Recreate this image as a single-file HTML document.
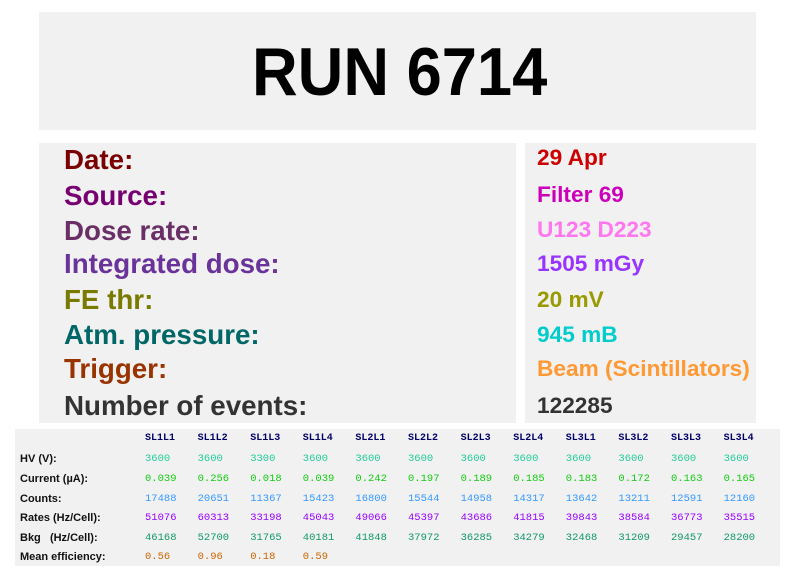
<!DOCTYPE html>
<html><head><meta charset="utf-8"><style>
body{margin:0;width:796px;height:572px;background:#fff;position:relative;overflow:hidden;font-family:"Liberation Sans",sans-serif}
.p{position:absolute;background:#f1f1f1}
.t{position:absolute;white-space:nowrap;font-weight:bold;transform-origin:left center}
.l{font-size:28px;transform:scaleX(0.99);line-height:30px}
.r{font-size:22px;transform:scaleX(1.03);line-height:24px}
.h{font-family:"Liberation Mono",monospace;font-size:10px;font-weight:bold;color:#000066}
.n{font-family:"Liberation Mono",monospace;font-size:10.5px;font-weight:normal}
.k{font-size:11px;color:#111}
</style></head><body>
<div class="p" style="left:39px;top:12px;width:717px;height:118px"></div>
<div class="t" style="left:252px;top:32px;font-size:68px;line-height:80px;color:#000;transform:scaleX(0.93)">RUN 6714</div>
<div class="p" style="left:39px;top:143px;width:477px;height:280px"></div>
<div class="p" style="left:525px;top:143px;width:231px;height:280px"></div>
<div class="t l" style="left:64px;top:145px;color:#7a0000">Date:</div>
<div class="t l" style="left:64px;top:181px;color:#760070">Source:</div>
<div class="t l" style="left:64px;top:216px;color:#6a2f66">Dose rate:</div>
<div class="t l" style="left:64px;top:249px;color:#6a3399">Integrated dose:</div>
<div class="t l" style="left:64px;top:285px;color:#7a7a00">FE thr:</div>
<div class="t l" style="left:64px;top:320px;color:#006666">Atm. pressure:</div>
<div class="t l" style="left:64px;top:354px;color:#993300">Trigger:</div>
<div class="t l" style="left:64px;top:391px;color:#333">Number of events:</div>
<div class="t r" style="left:537px;top:146px;color:#cc0000">29 Apr</div>
<div class="t r" style="left:537px;top:183px;color:#cc00bb">Filter 69</div>
<div class="t r" style="left:537px;top:218px;color:#ff77ee">U123 D223</div>
<div class="t r" style="left:537px;top:252px;color:#9933ff">1505 mGy</div>
<div class="t r" style="left:537px;top:288px;color:#999900">20 mV</div>
<div class="t r" style="left:537px;top:323px;color:#00cccc">945 mB</div>
<div class="t r" style="left:537px;top:357px;color:#ff9933">Beam (Scintillators)</div>
<div class="t r" style="left:537px;top:394px;color:#333">122285</div>
<div class="p" style="left:15px;top:429px;width:765px;height:137px"></div>
<div id="tb"></div>
<script>
var cols=["SL1L1","SL1L2","SL1L3","SL1L4","SL2L1","SL2L2","SL2L3","SL2L4","SL3L1","SL3L2","SL3L3","SL3L4"];
var rows=[
["HV (V):","#22cc99",["3600","3600","3300","3600","3600","3600","3600","3600","3600","3600","3600","3600"]],
["Current (\u00b5A):","#11cc11",["0.039","0.256","0.018","0.039","0.242","0.197","0.189","0.185","0.183","0.172","0.163","0.165"]],
["Counts:","#3399ff",["17488","20651","11367","15423","16800","15544","14958","14317","13642","13211","12591","12160"]],
["Rates (Hz/Cell):","#9900ff",["51076","60313","33198","45043","49066","45397","43686","41815","39843","38584","36773","35515"]],
["Bkg &nbsp; (Hz/Cell):","#119966",["46168","52700","31765","40181","41848","37972","36285","34279","32468","31209","29457","28200"]],
["Mean efficiency:","#cc6600",["0.56","0.96","0.18","0.59"]]];
var h="",ys=[460,480,500,519,539,558];
cols.forEach(function(c,i){h+='<div class="t h" style="left:'+(145+i*52.6)+'px;top:433px">'+c+'</div>';});
rows.forEach(function(r,j){var y=ys[j]-7;
h+='<div class="t k" style="left:20px;top:'+y+'px">'+r[0]+'</div>';
r[2].forEach(function(v,i){h+='<div class="t n" style="left:'+(145+i*52.6)+'px;top:'+y+'px;color:'+r[1]+'">'+v+'</div>';});});
document.getElementById("tb").innerHTML=h;
</script>
</body></html>
